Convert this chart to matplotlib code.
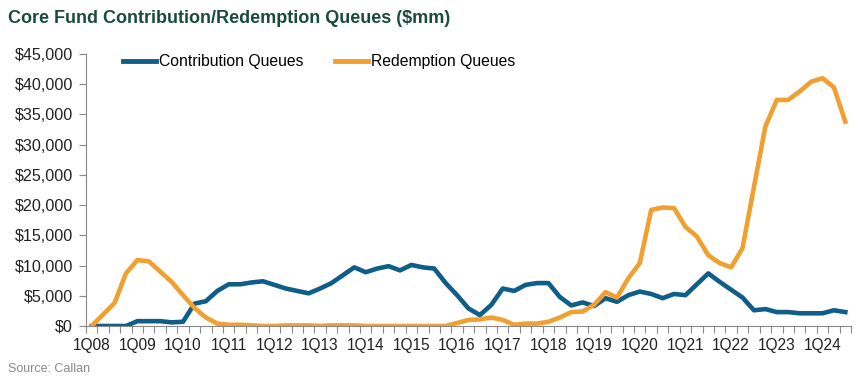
import matplotlib
matplotlib.use("Agg")
import matplotlib.pyplot as plt
import numpy as np

plt.rcParams['font.family'] = ['Liberation Sans', 'DejaVu Sans']

quarters = [f"{q}Q{y:02d}" for y in range(8, 25) for q in range(1, 5)][:67]
tick_labels = ['1Q08', '1Q09', '1Q10', '1Q11', '1Q12', '1Q13', '1Q14', '1Q15', '1Q16',
               '1Q17', '1Q18', '1Q19', '1Q20', '1Q21', '1Q22', '1Q23', '1Q24']

contribution = [0, 0, 0, 0, 800, 800, 800, 600, 700, 3700,
                4100, 5800, 6900, 6900, 7200, 7400, 6800, 6200, 5800, 5400,
                6200, 7100, 8400, 9700, 8900, 9500, 9900, 9200, 10100, 9700,
                9500, 7100, 5100, 2900, 1800, 3500, 6200, 5800, 6800, 7100,
                7100, 4800, 3400, 3900, 3300, 4600, 4000, 5100, 5700, 5300,
                4600, 5300, 5100, 6900, 8700, 7300, 6000, 4700, 2600, 2800,
                2300, 2300, 2100, 2100, 2100, 2600, 2300]

redemption = [0, 1900, 3800, 8700, 10900, 10700, 9000, 7300, 5100, 3000,
              1400, 400, 200, 200, 100, 0, 0, 100, 100, 100,
              0, 100, 100, 100, 0, 0, 0, 0, 0, 0,
              0, 0, 500, 1000, 1100, 1400, 1000, 200, 400, 400,
              700, 1400, 2300, 2400, 3500, 5600, 4700, 7900, 10400, 19200,
              19600, 19500, 16400, 14800, 11700, 10400, 9700, 12900, 23000, 33000,
              37400, 37400, 38800, 40400, 41000, 39500, 33800]

blue = '#0f5e8a'
orange = '#f0a030'

fig = plt.figure(figsize=(8.59, 3.77), dpi=100)
ax = fig.add_axes([0.1001, 0.1353, 0.8906, 0.7215])

x = np.arange(len(quarters))
ax.plot(x, contribution, color=blue, lw=3.3, label='Contribution Queues', solid_joinstyle='round')
ax.plot(x, redemption, color=orange, lw=3.3, label='Redemption Queues', solid_joinstyle='round')

ax.set_xlim(-0.5, len(quarters) - 0.5)
ax.set_ylim(0, 45000)
ax.set_yticks(np.arange(0, 45001, 5000))
ax.set_yticklabels([f"${v:,.0f}" for v in np.arange(0, 45001, 5000)], fontsize=11.6, color='#222222')

ax.set_xticks(np.arange(-0.5, len(quarters), 1.0))
ax.set_xticklabels([])
ax.set_xticks([quarters.index(t) for t in tick_labels], minor=True)
ax.set_xticklabels(tick_labels, minor=True, fontsize=11.2, color='#222222')
ax.tick_params(axis='x', which='major', length=5, color='#888888', width=0.8)
ax.tick_params(axis='x', which='minor', length=0, pad=9)
ax.tick_params(axis='y', length=5, color='#888888', width=0.8, pad=4.5)

for s in ['top', 'right']:
    ax.spines[s].set_visible(False)
for s in ['left', 'bottom']:
    ax.spines[s].set_color('#888888')
    ax.spines[s].set_linewidth(0.8)

leg = ax.legend(loc='upper left', bbox_to_anchor=(0.0405, 1.022), ncol=2, frameon=False,
                fontsize=11.3, handlelength=2.1, handletextpad=0.2, columnspacing=2.0,
                borderaxespad=0)
for line in leg.get_lines():
    line.set_linewidth(3.5)

fig.text(0.009, 0.952, 'Core Fund Contribution/Redemption Queues ($mm)', fontsize=12.95,
         fontweight='bold', color='#1b4b3b', va='center', ha='left')
fig.text(0.009, 0.022, 'Source: Callan', fontsize=9, color='#8a8a8a', va='center', ha='left')

fig.savefig('out.png', dpi=100)
